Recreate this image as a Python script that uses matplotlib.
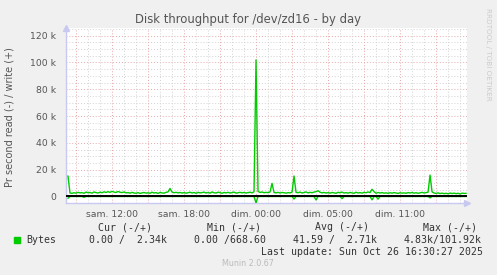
import numpy as np
import matplotlib
matplotlib.use("Agg")
import matplotlib.pyplot as plt
from matplotlib.ticker import FixedLocator, MultipleLocator

# ---- data (values in bytes/s, 10-minute samples, hours since sat 00:00) ----
t_start = 8 + 1/3
step_h = 1/6
write_k = [
    15.2, 2.6, 2.4, 2.8, 2.5, 3.1, 2.7, 2.9, 2.4, 3.3,
    2.8, 3.0, 2.5, 3.4, 2.9, 2.6, 3.2, 2.8, 3.5, 3.0,
    3.6, 3.1, 3.8, 3.3, 3.0, 3.7, 3.2, 2.9, 3.4, 2.7,
    2.9, 2.5, 3.1, 2.6, 2.4, 2.9, 2.3, 2.7, 3.0, 2.5,
    2.8, 2.4, 3.2, 2.6, 2.9, 2.3, 3.0, 2.7, 2.5, 3.1,
    3.4, 6.0, 3.3, 2.8, 3.1, 2.7, 3.0, 2.6, 2.9, 2.5,
    2.8, 3.2, 2.6, 3.0, 2.4, 3.1, 2.7, 2.9, 3.3, 2.6,
    3.0, 2.5, 3.4, 2.8, 2.6, 3.2, 2.9, 2.4, 3.0, 2.7,
    3.1, 2.6, 2.9, 3.3, 2.5, 2.8, 3.1, 2.7, 3.0, 2.6,
    2.9, 3.2, 2.7, 3.5, 101.92, 3.8, 3.0, 3.4, 2.8, 3.1,
    2.9, 3.3, 9.8, 3.0, 2.7, 3.1, 2.6, 3.0, 2.8, 2.5,
    2.9, 2.7, 3.2, 15.3, 3.1, 2.8, 3.3, 2.6, 3.0, 3.4,
    2.7, 3.1, 2.8, 3.3, 3.6, 4.3, 3.2, 2.7, 3.0, 2.6,
    2.9, 2.5, 3.0, 2.7, 2.4, 3.1, 2.8, 3.3, 2.6, 2.9,
    2.5, 3.0, 2.7, 2.4, 3.2, 2.6, 2.9, 2.5, 3.1, 2.8,
    3.4, 2.9, 5.4, 3.6, 2.4, 3.0, 2.6, 2.9, 2.5, 2.7,
    2.4, 2.8, 2.5, 2.9, 2.6, 2.3, 2.8, 2.5, 2.7, 2.4,
    2.9, 2.6, 3.0, 2.5, 2.8, 2.4, 2.7, 3.1, 2.6, 2.9,
    3.2, 16.0, 3.5, 2.6, 2.3, 2.7, 2.2, 2.5, 2.1, 2.4,
    2.0, 2.6, 2.2, 2.5, 2.1, 2.4, 1.9, 2.5, 2.3, 2.34,
]
read_idx = [0, 8, 94, 113, 124, 137, 152, 155, 181]
read_k = [1.3, 0.6, 4.83, 1.9, 2.6, 1.6, 2.5, 2.0, 1.0]

yticks = [0, 20000, 40000, 60000, 80000, 100000, 120000]
ytick_labels = ["0", "20 k", "40 k", "60 k", "80 k", "100 k", "120 k"]
xticks = [12, 18, 24, 30, 36]
xtick_labels = ["sam. 12:00", "sam. 18:00", "dim. 00:00", "dim. 05:00", "dim. 11:00"]

title = "Disk throughput for /dev/zd16 - by day"
ylabel = "Pr second read (-) / write (+)"
legend_header = ["Cur (-/+)", "Min (-/+)", "Avg (-/+)", "Max (-/+)"]
legend_values = ["0.00 /  2.34k", "0.00 /668.60", "41.59 /  2.71k", "4.83k/101.92k"]
series_name = "Bytes"
last_update = "Last update: Sun Oct 26 16:30:27 2025"

# ---- build series ----
write = np.array(write_k) * 1000.0
n = len(write)
t = t_start + np.arange(n) * step_h
read = np.zeros(n)
read[read_idx] = np.array(read_k) * 1000.0

W, H = 497, 275
fig = plt.figure(figsize=(W / 100, H / 100), dpi=100, facecolor="#F0F0F0")
L, R, T, B = 66, 467, 28, 203
ax = fig.add_axes([L / W, 1 - B / H, (R - L) / W, (B - T) / H])
ax.set_facecolor("white")

GREEN = "#00CC00"
ax.plot(t, -read, color=GREEN, lw=1.0, zorder=3)
ax.axhline(0, color="black", lw=1.4, zorder=4)
ax.plot(t, write, color=GREEN, lw=1.0, zorder=5)

ax.set_xlim(8 + 1/6, 41.58)
ax.set_ylim(-4850, 125700)

ax.yaxis.set_major_locator(FixedLocator(yticks))
ax.set_yticklabels(ytick_labels)
ax.yaxis.set_minor_locator(MultipleLocator(5000))
ax.xaxis.set_major_locator(FixedLocator(xticks))
ax.set_xticklabels(xtick_labels)
ax.xaxis.set_minor_locator(MultipleLocator(1))

# grid
for v in np.arange(5000, 126000, 5000):
    if v % 20000 == 0:
        ax.axhline(v, color="#E8A8A8", lw=0.7, ls=(0, (1, 2)), zorder=1)
    else:
        ax.axhline(v, color="#D2D2D2", lw=0.7, ls=(0, (1, 2)), zorder=1)
for h in range(9, 42):
    if h % 3 == 0:
        ax.axvline(h, color="#E8A8A8", lw=0.7, ls=(0, (1, 2)), zorder=1)
    else:
        ax.axvline(h, color="#D2D2D2", lw=0.7, ls=(0, (1, 2)), zorder=1)

for s in ["top", "right"]:
    ax.spines[s].set_visible(False)
for s in ["left", "bottom"]:
    ax.spines[s].set_color("#C8C8F0")
    ax.spines[s].set_linewidth(1.0)

ax.tick_params(axis="both", which="both", length=0, colors="#555555", labelsize=6.7)
ax.tick_params(axis="y", pad=7)
ax.tick_params(axis="x", pad=5)

# axis arrows
ax.plot([0], [1.0], marker="^", color="#C8C8F0", ms=4, transform=ax.transAxes, clip_on=False)
ax.plot([1.0], [0], marker=">", color="#C8C8F0", ms=4, transform=ax.transAxes, clip_on=False)

fig.text(248 / W, 1 - 19 / H, title, ha="center", va="center", fontsize=8.4, color="#555555")
fig.text(10 / W, 1 - 117 / H, ylabel, ha="center", va="center", rotation=90,
         fontsize=7.0, color="#555555")
fig.text(488 / W, 1 - 54 / H, "RRDTOOL / TOBI OETIKER", ha="center", va="center",
         rotation=270, fontsize=5.2, color="#CCCCCC")

mono = dict(family="DejaVu Sans Mono", fontsize=7.15, color="#333333", va="center")
hx = [98, 206.7, 315, 422.7]
for x, s in zip(hx, legend_header):
    fig.text(x / W, 1 - 227.3 / H, s, ha="left", **mono)
vx = [89.3, 194.3, 292.7, 404]
for x, s in zip(vx, legend_values):
    fig.text(x / W, 1 - 240 / H, s, ha="left", **mono)
fig.text(26.3 / W, 1 - 240 / H, series_name, ha="left", **mono)
fig.patches.append(plt.Rectangle((14 / W, 1 - 243 / H), 6 / W, 6 / H,
                                 transform=fig.transFigure, color=GREEN, figure=fig))
fig.text(482.7 / W, 1 - 251.7 / H, last_update, ha="right", **mono)
fig.text(248 / W, 1 - 264 / H, "Munin 2.0.67", ha="center", va="center",
         fontsize=5.8, color="#BBBBBB")

fig.savefig("out.png", dpi=100, facecolor=fig.get_facecolor())
